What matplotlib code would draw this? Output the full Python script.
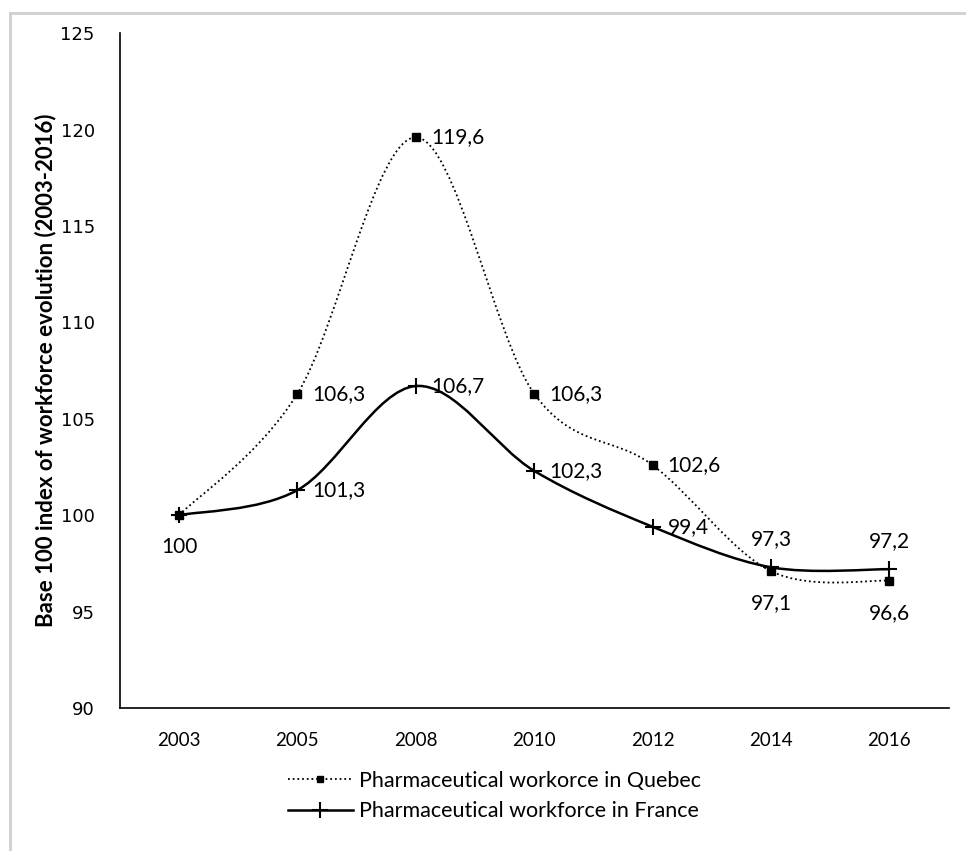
import numpy as np
import matplotlib.pyplot as plt
from matplotlib.path import Path
from matplotlib.patches import PathPatch
from matplotlib.lines import Line2D

years = ['2003', '2005', '2008', '2010', '2012', '2014', '2016']
quebec = [100, 106.3, 119.6, 106.3, 102.6, 97.1, 96.6]
france = [100, 101.3, 106.7, 102.3, 99.4, 97.3, 97.2]

quebec_name = 'Pharmaceutical workorce in Quebec'
france_name = 'Pharmaceutical workforce in France'

# label placement: 'r' right, 'b' below, 'a' above, None = no label
quebec_pos = ['b', 'r', 'r', 'r', 'r', 'b', 'b']
france_pos = [None, 'r', 'r', 'r', 'r', 'a', 'a']

plt.rcParams['font.family'] = ['Lato', 'DejaVu Sans']


def smooth_path(x, y):
    # excel-like smoothed line: cubic bezier through the points
    x = np.asarray(x, float)
    y = np.asarray(y, float)
    n = len(x)
    verts = [(x[0], y[0])]
    codes = [Path.MOVETO]
    for i in range(n - 1):
        x0, y0 = (x[i - 1], y[i - 1]) if i > 0 else (x[i], y[i])
        x3, y3 = (x[i + 2], y[i + 2]) if i + 2 < n else (x[i + 1], y[i + 1])
        c1 = (x[i] + (x[i + 1] - x0) / 6, y[i] + (y[i + 1] - y0) / 6)
        c2 = (x[i + 1] - (x3 - x[i]) / 6, y[i + 1] - (y3 - y[i]) / 6)
        verts += [c1, c2, (x[i + 1], y[i + 1])]
        codes += [Path.CURVE4] * 3
    return Path(verts, codes)


fig = plt.figure(figsize=(9.66, 8.51), dpi=100)
# light grey frame, only top and left edges visible
fig.add_artist(Line2D([0.0104, 1.0], [0.985, 0.985], color='#cfcfcf', linewidth=2))
fig.add_artist(Line2D([0.0104, 0.0104], [0.0, 0.985], color='#cfcfcf', linewidth=2))

ax = fig.add_axes([0.124, 0.168, 0.858, 0.793])

xs = np.arange(len(years))

ax.add_patch(PathPatch(smooth_path(xs, quebec), fill=False, edgecolor='black',
                       linewidth=1.3, linestyle=(0, (1, 1.6))))
ax.add_patch(PathPatch(smooth_path(xs, france), fill=False, edgecolor='black',
                       linewidth=1.8))
ax.plot(xs, quebec, linestyle='none', marker='s', markersize=5.5, color='black')
ax.plot(xs, france, linestyle='none', marker='+', markersize=12, markeredgewidth=1.5,
        color='black')


def fmt(v):
    s = ('%.1f' % v).rstrip('0').rstrip('.')
    return s.replace('.', ',')


offsets = {'r': (15, 0, 'left', 'center'),
           'b': (0, -32, 'center', 'center'),
           'a': (0, 28, 'center', 'center')}
for vals, poss in [(quebec, quebec_pos), (france, france_pos)]:
    for i, (v, p) in enumerate(zip(vals, poss)):
        if p is None:
            continue
        dx, dy, ha, va = offsets[p]
        ax.annotate(fmt(v), (xs[i], v), xytext=(dx, dy), textcoords='offset pixels',
                    ha=ha, va=va, fontsize=15)

ax.set_xlim(-0.5, len(years) - 0.5)
ax.set_ylim(90, 125)
ax.set_yticks(np.arange(90, 126, 5))
ax.set_xticks(xs)
ax.set_xticklabels(years)
ax.tick_params(length=0, labelsize=13.5)
ax.tick_params(axis='y', pad=18)
ax.tick_params(axis='x', pad=17)
for lab in ax.get_yticklabels():
    lab.set_family('DejaVu Sans')
    lab.set_fontsize(13)
ax.spines['top'].set_visible(False)
ax.spines['right'].set_visible(False)
ax.spines['left'].set_linewidth(1.2)
ax.spines['bottom'].set_linewidth(1.2)
ax.set_ylabel('Base 100 index of workforce evolution (2003-2016)', fontsize=16,
              fontweight='bold', labelpad=3)

handles = [Line2D([], [], color='black', linestyle=(0, (1, 1.6)), linewidth=1.3,
                  marker='s', markersize=5),
           Line2D([], [], color='black', linewidth=1.8, marker='+', markersize=12,
                  markeredgewidth=1.5)]
fig.legend(handles, [quebec_name, france_name], loc='upper left',
           bbox_to_anchor=(0.287, 0.107), frameon=False, fontsize=15.5,
           handlelength=3.0, labelspacing=0.5, handletextpad=0.3, borderpad=0)

fig.savefig('out.png', dpi=100)
